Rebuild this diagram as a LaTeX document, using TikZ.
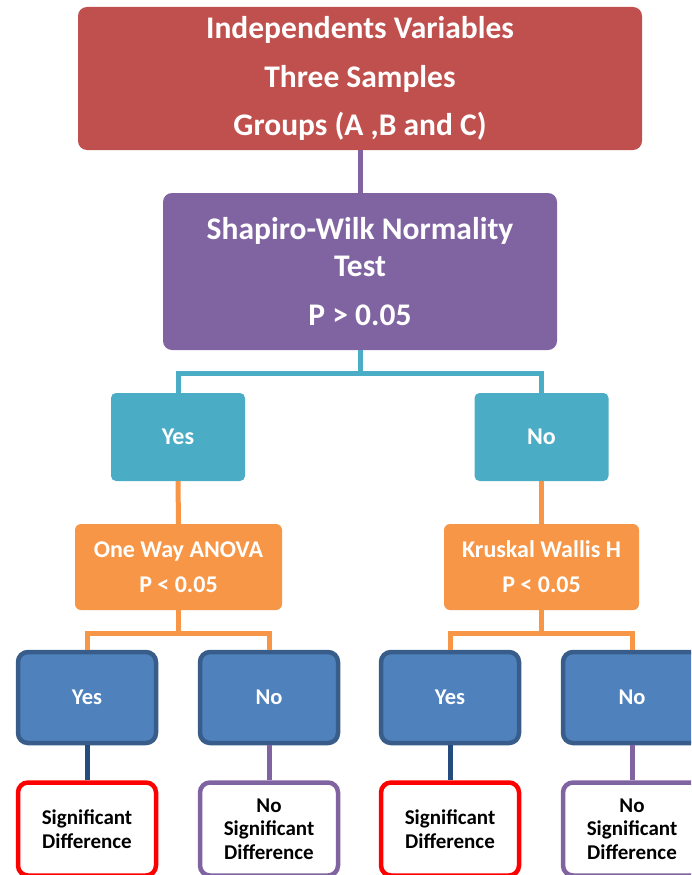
\documentclass[tikz,border=0pt]{standalone}
\usepackage{fontspec}
\setmainfont{Carlito}
\definecolor{cred}{HTML}{C0504D}
\definecolor{cpurple}{HTML}{8064A2}
\definecolor{cteal}{HTML}{4BACC6}
\definecolor{corange}{HTML}{F79646}
\definecolor{cblue}{HTML}{4F81BD}
\definecolor{cblueb}{HTML}{385D8A}
\definecolor{cdarkblue}{HTML}{254C7E}
\definecolor{cbrightred}{HTML}{FF0000}
\tikzset{
  box/.style={rectangle, rounded corners=9pt, inner sep=0pt, align=center, text=white, font=\bfseries},
  topbox/.style={box, fill=cred, minimum width=564pt, minimum height=143pt, font=\fontsize{31.5}{48.5}\selectfont\bfseries},
  testbox/.style={box, fill=cpurple, minimum width=394pt, minimum height=157pt, font=\fontsize{31.5}{37}\selectfont\bfseries},
  tealbox/.style={box, fill=cteal, rounded corners=5pt, minimum width=134pt, minimum height=88pt, font=\fontsize{24}{28}\selectfont\bfseries},
  orbox/.style={box, fill=corange, rounded corners=6pt, minimum height=86pt, font=\fontsize{24}{35}\selectfont\bfseries},
  bluebox/.style={box, fill=cblue, draw=cblueb, line width=4.5pt, rounded corners=10pt, minimum width=138pt, minimum height=91pt, font=\fontsize{22.5}{26}\selectfont\bfseries},
  resbox/.style={box, fill=white, line width=4.5pt, rounded corners=10pt, minimum width=138pt, minimum height=93pt, text=black, font=\fontsize{21}{23.7}\selectfont\bfseries},
  conn/.style={line width=5pt},
}
\begin{document}
\begin{tikzpicture}[x=1pt,y=-1pt]
\useasboundingbox (0,0) rectangle (691,875);
\clip (0,0) rectangle (691,875);
% nodes
\node[topbox] (top) at (360,78.5) {Independents Variables\\Three Samples\\Groups (A ,B and C)};
\node[testbox] (test) at (360,271.5) {Shapiro-Wilk Normality\\Test\\[12pt]P > 0.05};
\node[tealbox] (y1) at (178,437) {Yes};
\node[tealbox] (n1) at (541.5,437) {No};
\node[orbox, minimum width=207pt] (anova) at (178.5,567) {One Way ANOVA\\P < 0.05};
\node[orbox, minimum width=195pt] (kw) at (541.5,567) {Kruskal Wallis H\\P < 0.05};
\node[bluebox] (ay) at (87,697.5) {Yes};
\node[bluebox] (an) at (269,697.5) {No};
\node[bluebox] (ky) at (450,697.5) {Yes};
\node[bluebox] (kn) at (632,697.5) {No};
\node[resbox, draw=cbrightred] (ays) at (87,829) {Significant\\Difference};
\node[resbox, draw=cpurple] (ans) at (269,829) {No\\Significant\\Difference};
\node[resbox, draw=cbrightred] (kys) at (450,829) {Significant\\Difference};
\node[resbox, draw=cpurple] (kns) at (632,829) {No\\Significant\\Difference};
% connectors
\draw[conn, cpurple] (top.south) -- (test.north);
\coordinate (tb) at (360,373);
\draw[conn, cteal] (test.south) -- (tb);
\draw[conn, cteal] (y1.north) |- (tb) -| (n1.north);
\draw[conn, corange] (y1.south) -- (anova.north);
\draw[conn, corange] (n1.south) -- (kw.north);
\coordinate (ab) at (178.5,633);
\coordinate (kb) at (541.5,633);
\draw[conn, corange] (anova.south) -- (ab);
\draw[conn, corange] (ay.north) |- (ab) -| (an.north);
\draw[conn, corange] (kw.south) -- (kb);
\draw[conn, corange] (ky.north) |- (kb) -| (kn.north);
\draw[conn, cdarkblue] (ay.south) -- (ays.north);
\draw[conn, cpurple] (an.south) -- (ans.north);
\draw[conn, cdarkblue] (ky.south) -- (kys.north);
\draw[conn, cpurple] (kn.south) -- (kns.north);
\end{tikzpicture}
\end{document}
